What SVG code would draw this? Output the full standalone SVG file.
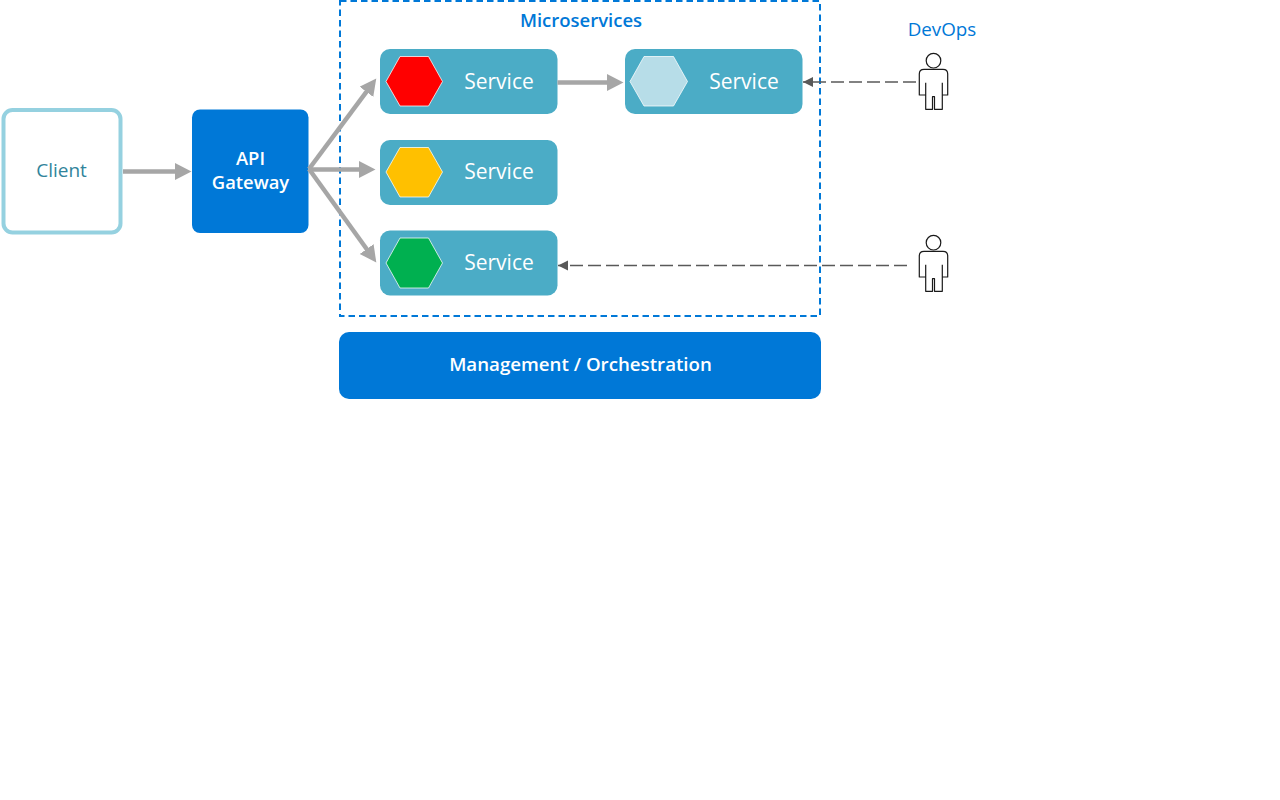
<svg xmlns="http://www.w3.org/2000/svg" width="1280" height="800" viewBox="0 0 1280 800">
<style>
text{font-family:"Open Sans","Noto Sans","Liberation Sans",sans-serif;text-anchor:middle}
.svc{fill:#4bacc6}
.svct{fill:#fff;font-size:21px}
.hex{stroke:#fff;stroke-opacity:.75;stroke-width:1}
.flow{fill:none;stroke:#a6a6a6;stroke-width:4.5}
.dash{fill:none;stroke:#595959;stroke-width:1.6;stroke-dasharray:13 5}
.man{fill:#fff;stroke:#1a1a1a;stroke-width:1.2;stroke-linejoin:round}
</style>
<defs>
<marker id="big" markerUnits="userSpaceOnUse" markerWidth="20" markerHeight="18" refX="4" refY="8.500" orient="auto"><path d="M0 0L16.500 8.500L0 17Z" fill="#a6a6a6"/></marker>
<marker id="small" markerUnits="userSpaceOnUse" markerWidth="11" markerHeight="11" refX="10" refY="5" orient="auto"><path d="M0 0L10 5L0 10Z" fill="#595959"/></marker>
<g id="person"><circle cx="933.5" cy="60.7" r="7.3" class="man"/><path class="man" d="M924 69.3H943Q947.7 69.3 947.7 74V95H942.3V109.3H934.5V96.7H932.5V109.3H925.7V95H919.3V74Q919.3 69.3 924 69.3ZM925.7 82.7V95M942.3 82.7V95"/></g>
</defs>
<g id="microservices">
<rect x="340" y="1" width="480" height="315" fill="none" stroke="#0078d7" stroke-width="2" stroke-dasharray="6.5 4"/>
<text x="581" y="27" font-size="18.500" font-weight="600" fill="#0078d7">Microservices</text>
</g>
<g id="client">
<rect x="3.500" y="110" width="117" height="122.500" rx="9" fill="#fff" stroke="#95d1e0" stroke-width="4"/>
<text x="61.500" y="176.500" font-size="19" fill="#31849b">Client</text>
</g>
<g id="gateway">
<rect x="192" y="109.500" width="116.500" height="123.500" rx="8" fill="#0078d7"/>
<text x="250.500" y="165" font-size="18.400" font-weight="600" fill="#fff">API</text>
<text x="250.500" y="189" font-size="18.400" font-weight="600" fill="#fff">Gateway</text>
</g>
<g id="service-red">
<rect class="svc" x="380" y="49" width="177.500" height="65" rx="10"/>
<path class="hex" fill="#f00" d="M386 81.500L400 56.500H428.500L442.500 81.500L428.500 106H400Z"/>
<text class="svct" x="499" y="89">Service</text>
</g>
<g id="service-light">
<rect class="svc" x="625" y="49" width="177.500" height="65" rx="10"/>
<path class="hex" fill="#b7dde8" d="M630 81.500L644 56.500H673.500L687.500 81.500L673.500 106H644Z"/>
<text class="svct" x="744" y="89">Service</text>
</g>
<g id="service-yellow">
<rect class="svc" x="380" y="140" width="177.500" height="65" rx="10"/>
<path class="hex" fill="#ffc000" d="M386 172L400 147.500H428.500L442.500 172L428.500 197H400Z"/>
<text class="svct" x="499" y="179">Service</text>
</g>
<g id="service-green">
<rect class="svc" x="380" y="230.500" width="177.500" height="65" rx="10"/>
<path class="hex" fill="#00b050" d="M386 263L400 238H428.500L442.500 263L428.500 288H400Z"/>
<text class="svct" x="499" y="270">Service</text>
</g>
<g id="management">
<rect x="339" y="332" width="482" height="67" rx="10" fill="#0078d7"/>
<text x="580.500" y="371" font-size="18.700" font-weight="600" fill="#fff">Management / Orchestration</text>
</g>
<g id="devops">
<text x="942" y="36" font-size="18.800" fill="#0078d7">DevOps</text>
<use href="#person"/>
</g>
<g id="operator">
<use href="#person" y="182"/>
</g>
<g id="connectors">
<path class="flow" d="M123 171.500H179" marker-end="url(#big)"/>
<path class="flow" d="M309 169L368.800 88.600" marker-end="url(#big)"/>
<path class="flow" d="M309 169.500H363" marker-end="url(#big)"/>
<path class="flow" d="M309 169L369 252.300" marker-end="url(#big)"/>
<path class="flow" d="M557.500 82.500H611" marker-end="url(#big)"/>
<path class="dash" d="M916 82H803" marker-end="url(#small)"/>
<path class="dash" d="M907 265.500H558" marker-end="url(#small)"/>
</g>
</svg>
